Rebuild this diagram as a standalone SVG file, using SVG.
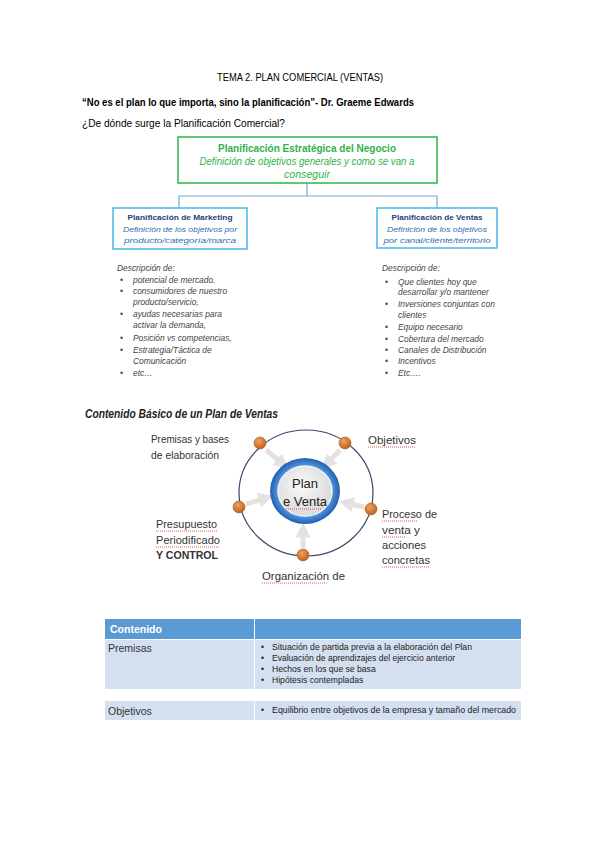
<svg xmlns="http://www.w3.org/2000/svg" width="599" height="848" viewBox="0 0 599 848">
<style>
text{font-family:"Liberation Sans","DejaVu Sans",sans-serif}
.hd{font-size:10px;fill:#000}
.hb{font-size:10px;fill:#000;font-weight:bold}
.gt{font-size:11.5px;font-weight:bold;fill:#2fb34a}
.gi{font-size:10px;font-style:italic;fill:#2fb34a}
.bt{font-size:8px;font-weight:bold;fill:#1f3f77}
.bi{font-size:8px;font-style:italic;fill:#2e6db4}
.li{font-size:8.4px;font-style:italic;fill:#444}
.cl{font-size:11.5px;fill:#333}
.conn{fill:none;stroke:#74a9dc;stroke-width:1.2}
.spell{stroke:#e03030;stroke-width:0.8;stroke-dasharray:1 1}
.arr{stroke:#e2e2e2;stroke-width:5;marker-end:url(#ah)}
.dot{fill:url(#og);stroke:#a65a1c;stroke-width:0.6}
.tb{font-size:8.6px;fill:#222}
.tl{font-size:10.5px;fill:#333}
</style>
<defs>
<marker id="ah" viewBox="0 0 10 10" refX="5" refY="5" markerWidth="3" markerHeight="3" orient="auto" markerUnits="strokeWidth">
<path d="M0,0 L10,5 L0,10 z" fill="#e2e2e2"/>
</marker>
<radialGradient id="og" cx="40%" cy="35%" r="65%">
<stop offset="0" stop-color="#f2a060"/>
<stop offset="1" stop-color="#c0611e"/>
</radialGradient>
<radialGradient id="bg" cx="50%" cy="50%" r="50%">
<stop offset="0.75" stop-color="#5a9be0"/>
<stop offset="1" stop-color="#1f5fb0"/>
</radialGradient>
<radialGradient id="gg" cx="45%" cy="40%" r="60%">
<stop offset="0" stop-color="#fafafa"/>
<stop offset="1" stop-color="#d9d9d9"/>
</radialGradient>
</defs>
<rect width="599" height="848" fill="#fff"/>

<g id="header">
<text class="hd" x="300" y="81" text-anchor="middle" textLength="166" lengthAdjust="spacingAndGlyphs">TEMA 2. PLAN COMERCIAL (VENTAS)</text>
<text class="hb" x="82" y="106" textLength="332" lengthAdjust="spacingAndGlyphs">“No es el plan lo que importa, sino la planificación”- Dr. Graeme Edwards</text>
<text class="hd" x="82" y="127" textLength="203" lengthAdjust="spacingAndGlyphs">¿De dónde surge la Planificación Comercial?</text>
</g>

<g id="connectors">
<polyline class="conn" points="307,183 307,196"/>
<polyline class="conn" points="179,208 179,196 437,196 437,208"/>
</g>

<g id="n-estrategica">
<rect x="178" y="137" width="259" height="46" fill="#fff" stroke="#2fb34a" stroke-width="1.5"/>
<text class="gt" x="307" y="152" text-anchor="middle" textLength="178" lengthAdjust="spacingAndGlyphs">Planificación Estratégica del Negocio</text>
<text class="gi" x="307" y="165" text-anchor="middle" textLength="215" lengthAdjust="spacingAndGlyphs">Definición de objetivos generales y como se van a</text>
<text class="gi" x="307" y="178" text-anchor="middle" textLength="46" lengthAdjust="spacingAndGlyphs">conseguir</text>
</g>

<g id="n-marketing">
<rect x="113" y="208" width="134" height="41" fill="#fff" stroke="#45b8ea" stroke-width="1.5"/>
<text class="bt" x="180" y="220" text-anchor="middle" textLength="105" lengthAdjust="spacingAndGlyphs">Planificación de Marketing</text>
<text class="bi" x="180" y="232" text-anchor="middle" textLength="114" lengthAdjust="spacingAndGlyphs">Definición de los objetivos por</text>
<text class="bi" x="180" y="243" text-anchor="middle" textLength="112" lengthAdjust="spacingAndGlyphs">producto/categoría/marca</text>
</g>

<g id="n-ventas">
<rect x="377" y="208" width="120" height="40" fill="#fff" stroke="#45b8ea" stroke-width="1.5"/>
<text class="bt" x="437" y="220" text-anchor="middle" textLength="91" lengthAdjust="spacingAndGlyphs">Planificación de Ventas</text>
<text class="bi" x="437" y="232" text-anchor="middle" textLength="100" lengthAdjust="spacingAndGlyphs">Definición de los objetivos</text>
<text class="bi" x="437" y="243" text-anchor="middle" textLength="107" lengthAdjust="spacingAndGlyphs">por canal/cliente/territorio</text>
</g>

<g id="list-marketing">
<text class="li" x="117" y="271">Descripción de:</text>
<g class="li">
<text x="120" y="283">•</text><text x="133" y="283">potencial de mercado.</text>
<text x="120" y="294">•</text><text x="133" y="294">consumidores de nuestro</text>
<text x="133" y="305">producto/servicio,</text>
<text x="120" y="317">•</text><text x="133" y="317">ayudas necesarias para</text>
<text x="133" y="328">activar la demanda,</text>
<text x="120" y="341">•</text><text x="133" y="341">Posición vs competencias,</text>
<text x="120" y="353">•</text><text x="133" y="353">Estrategia/Táctica de</text>
<text x="133" y="364">Comunicación</text>
<text x="120" y="376">•</text><text x="133" y="376">etc…</text>
</g>
</g>

<g id="list-ventas">
<text class="li" x="382" y="271">Descripción de:</text>
<g class="li">
<text x="385" y="285">•</text><text x="398" y="285">Que clientes hoy que</text>
<text x="398" y="295">desarrollar y/o mantener</text>
<text x="385" y="307">•</text><text x="398" y="307">Inversiones conjuntas con</text>
<text x="398" y="318">clientes</text>
<text x="385" y="330">•</text><text x="398" y="330">Equipo necesario</text>
<text x="385" y="342">•</text><text x="398" y="342">Cobertura del mercado</text>
<text x="385" y="353">•</text><text x="398" y="353">Canales de Distribución</text>
<text x="385" y="364">•</text><text x="398" y="364">Incentivos</text>
<text x="385" y="376">•</text><text x="398" y="376">Etc….</text>
</g>
</g>

<text x="85" y="418" font-size="12" font-weight="bold" font-style="italic" fill="#222" textLength="193" lengthAdjust="spacingAndGlyphs">Contenido Básico de un Plan de Ventas</text>

<g id="cycle">
<ellipse cx="306" cy="493" rx="67" ry="63" fill="none" stroke="#3b4a6b" stroke-width="1.2"/>
<line class="arr" x1="266" y1="450" x2="283" y2="464"/>
<line class="arr" x1="340" y1="450" x2="327" y2="464"/>
<line class="arr" x1="246" y1="504" x2="266" y2="498"/>
<line class="arr" x1="364" y1="507" x2="346" y2="503"/>
<line class="arr" x1="303" y1="548" x2="303" y2="530"/>
</g>

<g id="n-plan">
<ellipse cx="305" cy="491" rx="35" ry="33" fill="url(#bg)"/>
<ellipse cx="305" cy="491" rx="27" ry="25" fill="url(#gg)" stroke="#eef3fb" stroke-width="1.5"/>
<text x="305" y="488" font-size="13" fill="#222" text-anchor="middle">Plan</text>
<text x="305" y="506" font-size="13" fill="#222" text-anchor="middle">e Venta</text>
<line class="spell" x1="286" y1="509" x2="322" y2="509"/>
</g>

<g id="n-premisas"><circle class="dot" cx="260" cy="443" r="6"/>
<text class="cl" x="151" y="443" textLength="78" lengthAdjust="spacingAndGlyphs">Premisas y bases</text>
<text class="cl" x="151" y="459" textLength="68" lengthAdjust="spacingAndGlyphs">de elaboración</text>
</g>
<g id="n-objetivos"><circle class="dot" cx="345" cy="443" r="6"/>
<text class="cl" x="368" y="444" textLength="48" lengthAdjust="spacingAndGlyphs">Objetivos</text>
<line class="spell" x1="368" y1="447" x2="416" y2="447"/>
</g>
<g id="n-presupuesto"><circle class="dot" cx="239" cy="507" r="6"/>
<text class="cl" x="156" y="528" textLength="61" lengthAdjust="spacingAndGlyphs">Presupuesto</text>
<line class="spell" x1="156" y1="531" x2="217" y2="531"/>
<text class="cl" x="156" y="544" textLength="64" lengthAdjust="spacingAndGlyphs">Periodificado</text>
<line class="spell" x1="156" y1="547" x2="220" y2="547"/>
<text class="cl" x="156" y="559" font-weight="bold" fill="#111" textLength="62" lengthAdjust="spacingAndGlyphs">Y CONTROL</text>
</g>
<g id="n-proceso"><circle class="dot" cx="371" cy="509" r="6"/>
<text class="cl" x="382" y="518" textLength="55" lengthAdjust="spacingAndGlyphs">Proceso de</text>
<line class="spell" x1="382" y1="521" x2="418" y2="521"/>
<text class="cl" x="382" y="534" textLength="38" lengthAdjust="spacingAndGlyphs">venta  y</text>
<line class="spell" x1="382" y1="537" x2="406" y2="537"/>
<text class="cl" x="382" y="549" textLength="44" lengthAdjust="spacingAndGlyphs">acciones</text>
<text class="cl" x="382" y="564" textLength="48" lengthAdjust="spacingAndGlyphs">concretas</text>
<line class="spell" x1="382" y1="567" x2="430" y2="567"/>
</g>
<g id="n-organizacion"><circle class="dot" cx="303" cy="555" r="6"/>
<text class="cl" x="262" y="580" textLength="83" lengthAdjust="spacingAndGlyphs">Organización de</text>
<line class="spell" x1="262" y1="583" x2="328" y2="583"/>
</g>

<g id="table">
<rect x="105" y="619" width="149" height="20" fill="#5b9bd5"/>
<rect x="255" y="619" width="266" height="20" fill="#5b9bd5"/>
<text x="110" y="633" font-size="10.5" font-weight="bold" fill="#fff">Contenido</text>
<rect x="105" y="640" width="149" height="49" fill="#d4dff0"/>
<rect x="255" y="640" width="266" height="49" fill="#d4dff0"/>
<text class="tl" x="108" y="652">Premisas</text>
<g class="tb">
<text x="261" y="650">•</text><text x="272" y="650" textLength="200" lengthAdjust="spacingAndGlyphs">Situación de partida previa a la elaboración del Plan</text>
<text x="261" y="661">•</text><text x="272" y="661" textLength="183" lengthAdjust="spacingAndGlyphs">Evaluación de aprendizajes del ejercicio anterior</text>
<text x="261" y="672">•</text><text x="272" y="672">Hechos en los que se basa</text>
<text x="261" y="683">•</text><text x="272" y="683">Hipótesis contempladas</text>
</g>
<rect x="105" y="701" width="149" height="19" fill="#d4dff0"/>
<rect x="255" y="701" width="266" height="19" fill="#d4dff0"/>
<text class="tl" x="108" y="715">Objetivos</text>
<text class="tb" x="261" y="713">•</text><text class="tb" x="272" y="713" textLength="244" lengthAdjust="spacingAndGlyphs">Equilibrio entre objetivos de la empresa y tamaño del mercado</text>
</g>
</svg>
